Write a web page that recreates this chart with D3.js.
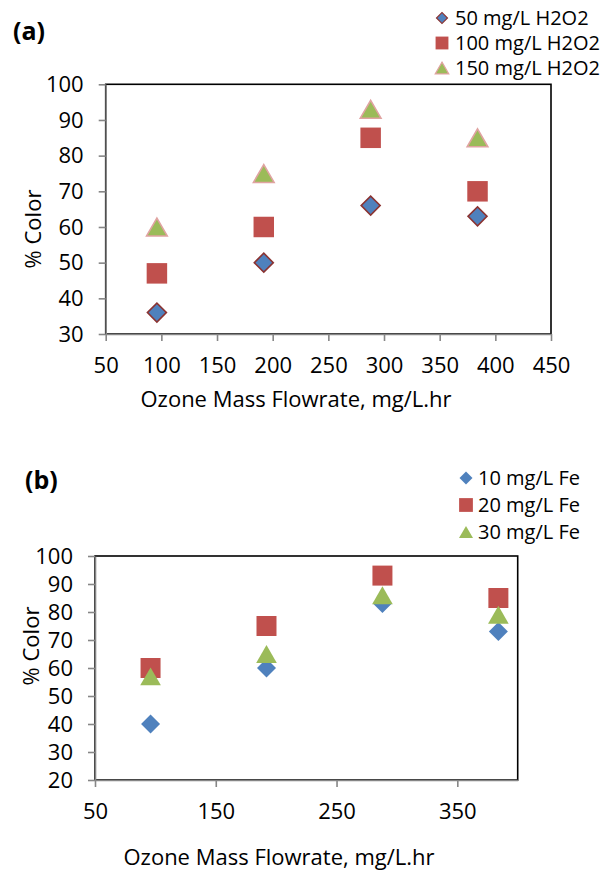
<!DOCTYPE html>
<html>
<head>
    <meta charset="utf-8">
    <title>% Color vs Ozone Mass Flowrate</title>
    <script src="https://d3js.org/d3.v7.min.js"></script>
    <style>
        body { margin: 0; background: #fff; }
        svg { display: block; font-family: "Open Sans", sans-serif; }
        .axis path, .axis line { stroke: #868686; stroke-width: 1.6; }
        .axis text { font-size: 22px; fill: #000; font-family: "Open Sans", sans-serif; }
        .title { font-size: 22px; fill: #000; }
        .legend text { font-size: 20px; fill: #000; }
        .panel-label { font-size: 25px; font-weight: bold; }
    </style>
</head>
<body>
<div id="chart"></div>
<script>
    // data
    const ozoneFlow = [96, 192, 288, 384];

    // panel (a): H2O2 dose
    const h2o2Names = ["50 mg/L H2O2", "100 mg/L H2O2", "150 mg/L H2O2"];
    const h2o2_50 = [36, 50, 66, 63];
    const h2o2_100 = [47, 60, 85, 70];
    const h2o2_150 = [60, 75, 93, 85];
    const xTicksA = [50, 100, 150, 200, 250, 300, 350, 400, 450];
    const yTicksA = [30, 40, 50, 60, 70, 80, 90, 100];

    // panel (b): Fe dose
    const feNames = ["10 mg/L Fe", "20 mg/L Fe", "30 mg/L Fe"];
    const fe_10 = [40, 60, 83, 73];
    const fe_20 = [60, 75, 93, 85];
    const fe_30 = [57, 65, 86, 79];
    const xTicksB = [50, 150, 250, 350];
    const yTicksB = [20, 30, 40, 50, 60, 70, 80, 90, 100];

    const xTitle = "Ozone Mass Flowrate, mg/L.hr";
    const yTitle = "% Color";

    const blue = "#4f81bd", red = "#c0504d", green = "#9bbb59";

    const svg = d3.select("#chart").append("svg")
        .attr("width", 610)
        .attr("height", 871);

    // marker path; triangle shifted so its bounding box centres on the point
    function marker(shape, size) {
        if (shape === "diamond") {
            return { d: d3.symbol(d3.symbolSquare, size)(), rot: 45, dy: 0 };
        }
        if (shape === "square") {
            return { d: d3.symbol(d3.symbolSquare, size)(), rot: 0, dy: 0 };
        }
        const side = Math.sqrt(size * 4 / Math.sqrt(3));
        const h = side * Math.sqrt(3) / 2;
        return { d: d3.symbol(d3.symbolTriangle, size)(), rot: 0, dy: h / 6 };
    }

    function drawPanel(p) {
        const x = d3.scaleLinear().domain(p.xDomain).range(p.xRange);
        const y = d3.scaleLinear().domain(p.yDomain).range(p.yRange);
        const g = svg.append("g");

        // plot area border (black on top/right)
        g.append("rect")
            .attr("x", p.xRange[0])
            .attr("y", p.yRange[1])
            .attr("width", p.xRange[1] - p.xRange[0])
            .attr("height", p.yRange[0] - p.yRange[1])
            .attr("fill", "none")
            .attr("stroke", "#000")
            .attr("stroke-width", 1.6);

        g.append("g")
            .attr("class", "axis")
            .attr("transform", `translate(0,${p.yRange[0]})`)
            .call(d3.axisBottom(x).tickValues(p.xTicks).tickSize(7).tickSizeOuter(0).tickPadding(p.xPad));

        g.append("g")
            .attr("class", "axis")
            .attr("transform", `translate(${p.xRange[0]},0)`)
            .call(d3.axisLeft(y).tickValues(p.yTicks).tickSize(7).tickSizeOuter(0).tickPadding(p.yPad));

        // series markers
        p.series.forEach(s => {
            const m = marker(s.shape, s.size);
            g.append("g").selectAll("path")
                .data(s.values)
                .join("path")
                .attr("d", m.d)
                .attr("transform", (v, i) => `translate(${x(ozoneFlow[i])},${y(v) + m.dy}) rotate(${m.rot})`)
                .attr("fill", s.color)
                .attr("stroke", s.stroke || "none")
                .attr("stroke-width", s.stroke ? 1.6 : 0);
        });

        // titles
        g.append("text")
            .attr("class", "title")
            .attr("x", p.xTitlePos[0])
            .attr("y", p.xTitlePos[1])
            .attr("text-anchor", "middle")
            .text(xTitle);

        g.append("text")
            .attr("class", "title")
            .attr("transform", `translate(${p.yTitlePos[0]},${p.yTitlePos[1]}) rotate(-90)`)
            .attr("text-anchor", "middle")
            .attr("dy", "0.35em")
            .text(yTitle);

        g.append("text")
            .attr("class", "panel-label")
            .attr("x", p.labelPos[0])
            .attr("y", p.labelPos[1])
            .attr("dy", "0.35em")
            .text(p.label);

        // legend
        const legend = g.append("g").attr("class", "legend");
        p.series.forEach((s, i) => {
            const m = marker(s.shape, s.legendSize);
            const row = legend.append("g")
                .attr("transform", `translate(${p.legendPos[0]},${p.legendPos[1] + i * p.legendStep})`);
            row.append("path")
                .attr("d", m.d)
                .attr("transform", `translate(0,${m.dy}) rotate(${m.rot})`)
                .attr("fill", s.color)
                .attr("stroke", s.stroke || "none")
                .attr("stroke-width", s.stroke ? 1.2 : 0);
            row.append("text")
                .attr("x", p.legendTextDx)
                .attr("dy", "0.35em")
                .text(s.name);
        });
    }

    drawPanel({
        label: "(a)",
        labelPos: [13, 31],
        xDomain: [50, 450], xRange: [105.7, 551],
        yDomain: [30, 100], yRange: [334, 84.3],
        xTicks: xTicksA, yTicks: yTicksA,
        xPad: 16, yPad: 15,
        xTitlePos: [296, 407],
        yTitlePos: [33, 229],
        legendPos: [442, 18], legendStep: 25, legendTextDx: 13,
        series: [
            { name: h2o2Names[0], values: h2o2_50, shape: "diamond", size: 180, legendSize: 60, color: blue, stroke: "#8b3331" },
            { name: h2o2Names[1], values: h2o2_100, shape: "square", size: 420, legendSize: 165, color: red },
            { name: h2o2Names[2], values: h2o2_150, shape: "triangle", size: 185, legendSize: 80, color: green, stroke: "#e0a3a1" }
        ]
    });

    drawPanel({
        label: "(b)",
        labelPos: [25, 480],
        xDomain: [50, 400], xRange: [95, 517.7],
        yDomain: [20, 100], yRange: [780, 556],
        xTicks: xTicksB, yTicks: yTicksB,
        xPad: 16, yPad: 15,
        xTitlePos: [279, 865],
        yTitlePos: [31, 646],
        legendPos: [466, 478], legendStep: 27, legendTextDx: 12,
        series: [
            { name: feNames[0], values: fe_10, shape: "diamond", size: 180, legendSize: 85, color: blue },
            { name: feNames[1], values: fe_20, shape: "square", size: 400, legendSize: 190, color: red },
            { name: feNames[2], values: fe_30, shape: "triangle", size: 185, legendSize: 85, color: green }
        ]
    });
</script>
</body>
</html>
